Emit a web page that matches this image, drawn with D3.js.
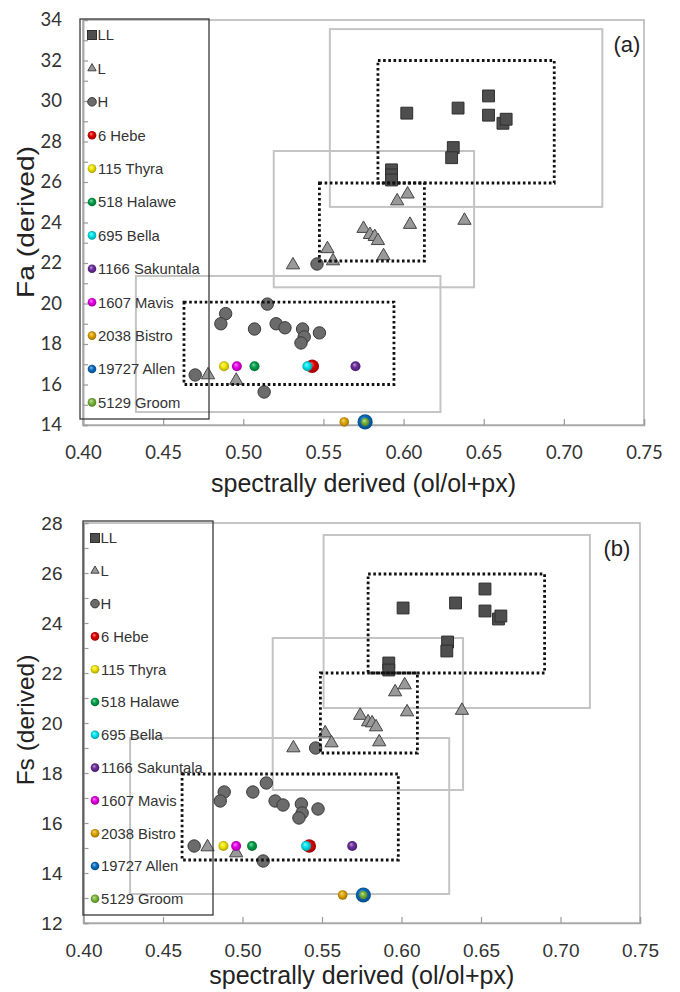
<!DOCTYPE html>
<html><head><meta charset="utf-8">
<script src="https://cdn.jsdelivr.net/npm/d3@7"></script>
<style>body{margin:0;background:#fff}svg{display:block}</style>
</head><body><svg id="c" width="680" height="992"></svg>
<script>
// ---------------- DATA ----------------
const xTicks = [0.40,0.45,0.50,0.55,0.60,0.65,0.70,0.75];
const yTicksA = [14,16,18,20,22,24,26,28,30,32,34];
const yTicksB = [12,14,16,18,20,22,24,26,28];

const legendNames = ["LL","L","H","6 Hebe","115 Thyra","518 Halawe","695 Bella","1166 Sakuntala","1607 Mavis","2038 Bistro","19727 Allen","5129 Groom"];
const asteroidNames = ["6 Hebe","115 Thyra","518 Halawe","695 Bella","1166 Sakuntala","1607 Mavis","2038 Bistro","19727 Allen","5129 Groom"];

// panel (a): Fa vs ol/(ol+px)
const LL_a = [[0.602,29.4],[0.634,29.65],[0.653,30.25],[0.653,29.3],[0.662,28.9],[0.664,29.1],[0.631,27.7],[0.630,27.2],[0.5925,26.6],[0.5925,26.35],[0.5925,26.1]];
const L_a = [[0.6025,25.4],[0.596,25.06],[0.604,23.9],[0.638,24.1],[0.575,23.7],[0.579,23.4],[0.582,23.3],[0.584,23.1],[0.5525,22.7],[0.556,22.1],[0.5875,22.35],[0.531,21.9],[0.478,16.47],[0.4956,16.2]];
const H_a = [[0.546,21.95],[0.515,19.97],[0.489,19.5],[0.486,19.0],[0.507,18.74],[0.5205,19.0],[0.526,18.8],[0.537,18.74],[0.538,18.35],[0.536,18.05],[0.5475,18.55],[0.470,16.47],[0.513,15.63]];
const AST_a_x = [0.543,0.488,0.507,0.540,0.570,0.496,0.563,0.576,0.576];
const AST_a_y = [16.9,16.9,16.9,16.9,16.9,16.9,14.15,14.15,14.15];
// regions [x0,x1,y0,y1]
const SOLID_a = [[0.554,0.724,24.77,33.55],[0.519,0.644,20.8,27.53],[0.433,0.623,14.64,21.36]];
const DOT_a = [[0.584,0.694,25.95,32.0],[0.5475,0.613,22.1,25.95],[0.463,0.594,16.0,20.07]];

// panel (b): Fs vs ol/(ol+px)
const LL_b = [[0.601,24.6],[0.634,24.8],[0.6525,25.36],[0.6525,24.48],[0.661,24.16],[0.6625,24.28],[0.629,23.24],[0.6285,22.88],[0.592,22.4],[0.592,22.12]];
const L_b = [[0.602,21.52],[0.596,21.24],[0.6035,20.44],[0.638,20.5],[0.574,20.3],[0.579,20.04],[0.5815,20.0],[0.584,19.84],[0.552,19.6],[0.556,19.2],[0.586,19.24],[0.532,19.0],[0.478,15.04],[0.496,14.8]];
const H_b = [[0.546,19.0],[0.515,17.6],[0.4885,17.24],[0.486,16.88],[0.5065,17.24],[0.5205,16.88],[0.5255,16.72],[0.537,16.76],[0.5375,16.4],[0.5355,16.2],[0.5475,16.56],[0.4696,15.08],[0.513,14.48]];
const AST_b_x = [0.542,0.488,0.506,0.540,0.569,0.496,0.563,0.576,0.576];
const AST_b_y = [15.08,15.08,15.08,15.08,15.08,15.08,13.12,13.12,13.12];
const SOLID_b = [[0.551,0.7185,20.6,27.52],[0.519,0.6387,17.32,23.4],[0.4293,0.630,13.16,19.4]];
const DOT_b = [[0.579,0.690,22.0,25.96],[0.549,0.610,18.8,22.0],[0.462,0.598,14.52,17.96]];

// ---------------- STYLE ----------------
const astColors = ["#e00000","#f2e600","#00a04a","#00e5ee","#6a2c9a","#e600e6","#e0a400","#0a6cc0","#7ab83a"];
const astRadius = [6.8,5,5,5,5,5,4.8,7.6,4.2];
const ARIAL = "'Liberation Sans', Arial, sans-serif";
const CAL = "Lato, 'Open Sans', sans-serif";

const svg = d3.select("#c");
const defs = svg.append("defs");
astColors.forEach((c,i)=>{
  const g = defs.append("radialGradient").attr("id","g"+i).attr("cx","50%").attr("cy","50%").attr("r","55%").attr("fx","38%").attr("fy","32%");
  g.append("stop").attr("offset","0%").attr("stop-color", d3.interpolateRgb(c,"#fff")(0.55));
  g.append("stop").attr("offset","45%").attr("stop-color", c);
  g.append("stop").attr("offset","100%").attr("stop-color", d3.color(c).darker(1.2));
});

const panels = [
  {ll:LL_a,l:L_a,h:H_a,ax:AST_a_x,ay:AST_a_y,solid:SOLID_a,dot:DOT_a,yTicks:yTicksA,yDom:[14,34],
   top:20,bottom:425,left:83,right:644,title:"Fa (derived)",titleLen:152,tag:"(a)",tagX:627,tagY:52,
   tickFont:CAL,tickSize:18.5,xPad:28,
   leg:[80,19,209,419],legY0:35,legDy:33.4,xTitleY:492,titleCY:222},
  {ll:LL_b,l:L_b,h:H_b,ax:AST_b_x,ay:AST_b_y,solid:SOLID_b,dot:DOT_b,yTicks:yTicksB,yDom:[12,28],
   top:523,bottom:923,left:83.5,right:640,title:"Fs (derived)",titleLen:null,tag:"(b)",tagX:617,tagY:556,
   tickFont:ARIAL,tickSize:19,xPad:27,
   leg:[83,521,213,915],legY0:538,legDy:32.8,xTitleY:984,titleCY:720}
];

panels.forEach(p=>{
  const x = d3.scaleLinear().domain([0.40,0.75]).range([p.left,p.right]);
  const y = d3.scaleLinear().domain(p.yDom).range([p.bottom,p.top]);
  const g = svg.append("g");

  // plot border
  g.append("rect").attr("x",p.left).attr("y",p.top).attr("width",p.right-p.left).attr("height",p.bottom-p.top)
   .attr("fill","none").attr("stroke","#b4b4b4").attr("stroke-width",1.5);

  // axes
  const xa = g.append("g").attr("transform",`translate(0,${p.bottom})`)
    .call(d3.axisBottom(x).tickValues(xTicks).tickFormat(d3.format(".2f")).tickSize(-6).tickPadding(p.xPad));
  const ya = g.append("g").attr("transform",`translate(${p.left},0)`)
    .call(d3.axisLeft(y).tickValues(p.yTicks).tickFormat(d3.format("d")).tickSize(0).tickPadding(21));
  const ym = g.append("g").attr("transform",`translate(${p.left},0)`)
    .call(d3.axisLeft(y).ticks(p.yDom[1]-p.yDom[0]).tickFormat("").tickSize(-5));
  [xa,ya,ym].forEach(a=>{
    a.select(".domain").attr("stroke","#a8a8a8").attr("stroke-width",1.5);
    a.selectAll(".tick line").attr("stroke","#9a9a9a").attr("stroke-width",1.2);
    a.selectAll("text").attr("font-family",p.tickFont).attr("font-size",p.tickSize).attr("fill","#333");
  });
  xa.selectAll("text").attr("dy","0.35em");

  // region boxes (solid gray)
  g.selectAll(".sb").data(p.solid).join("rect")
   .attr("x",d=>x(d[0])).attr("y",d=>y(d[3])).attr("width",d=>x(d[1])-x(d[0])).attr("height",d=>y(d[2])-y(d[3]))
   .attr("fill","none").attr("stroke","#c4c4c4").attr("stroke-width",2);

  // H circles
  g.selectAll(".h").data(p.h).join("circle")
   .attr("cx",d=>x(d[0])).attr("cy",d=>y(d[1])).attr("r",6.2)
   .attr("fill","#6b6b6b").attr("stroke","#3a3a3a").attr("stroke-width",1);
  // L triangles
  g.selectAll(".t").data(p.l).join("path")
   .attr("transform",d=>`translate(${x(d[0])},${y(d[1])})`)
   .attr("d",d3.symbol(d3.symbolTriangle,76))
   .attr("fill","#999").attr("stroke","#444").attr("stroke-width",1);
  // LL squares
  g.selectAll(".s").data(p.ll).join("path")
   .attr("transform",d=>`translate(${x(d[0])},${y(d[1])})`)
   .attr("d",d3.symbol(d3.symbolSquare,140))
   .attr("fill","#4e4e4e").attr("stroke","#2e2e2e").attr("stroke-width",1);

  // asteroids
  g.selectAll(".a").data(asteroidNames).join("circle")
   .attr("cx",(d,i)=>x(p.ax[i])).attr("cy",(d,i)=>y(p.ay[i])).attr("r",(d,i)=>astRadius[i])
   .attr("fill",(d,i)=>`url(#g${i})`);

  // dotted boxes
  g.selectAll(".db").data(p.dot).join("rect")
   .attr("x",d=>x(d[0])).attr("y",d=>y(d[3])).attr("width",d=>x(d[1])-x(d[0])).attr("height",d=>y(d[2])-y(d[3]))
   .attr("fill","none").attr("stroke","#111").attr("stroke-width",2.8).attr("stroke-dasharray","2.6,2.6");

  // legend box
  const L = p.leg;
  g.append("rect").attr("x",L[0]).attr("y",L[1]).attr("width",L[2]-L[0]).attr("height",L[3]-L[1])
   .attr("fill","none").attr("stroke","#3a3a3a").attr("stroke-width",1.3);
  const lg = g.append("g");
  legendNames.forEach((n,i)=>{
    const cy = p.legY0 + i*p.legDy, cx = L[0]+12;
    if(i===0) lg.append("rect").attr("x",cx-4.5).attr("y",cy-4.5).attr("width",9).attr("height",9).attr("fill","#4e4e4e").attr("stroke","#2e2e2e");
    else if(i===1) lg.append("path").attr("transform",`translate(${cx},${cy})`).attr("d",d3.symbol(d3.symbolTriangle,30)).attr("fill","#999").attr("stroke","#444");
    else if(i===2) lg.append("circle").attr("cx",cx).attr("cy",cy).attr("r",4.3).attr("fill","#6b6b6b").attr("stroke","#3a3a3a");
    else lg.append("circle").attr("cx",cx).attr("cy",cy).attr("r",4.3).attr("fill",`url(#g${i-3})`);
    lg.append("text").attr("x",cx+(i<3?5.5:6)).attr("y",cy).attr("dy","0.36em")
      .attr("font-family",ARIAL).attr("font-size",14.8).attr("fill","#333").text(n);
  });

  // titles
  g.append("text").attr("x",(p.left+p.right)/2).attr("y",p.xTitleY).attr("text-anchor","middle")
   .attr("font-family",ARIAL).attr("font-size",25).attr("fill","#222").text("spectrally derived (ol/ol+px)");
  const yt = g.append("text").attr("transform",`translate(34,${p.titleCY}) rotate(-90)`).attr("text-anchor","middle")
   .attr("font-family",ARIAL).attr("font-size",24.5).attr("fill","#222").text(p.title);
  if(p.titleLen) yt.attr("textLength",p.titleLen).attr("lengthAdjust","spacingAndGlyphs");
  g.append("text").attr("x",p.tagX).attr("y",p.tagY).attr("text-anchor","middle")
   .attr("font-family",ARIAL).attr("font-size",22).attr("fill","#222").text(p.tag);
});
</script>
</body></html>
